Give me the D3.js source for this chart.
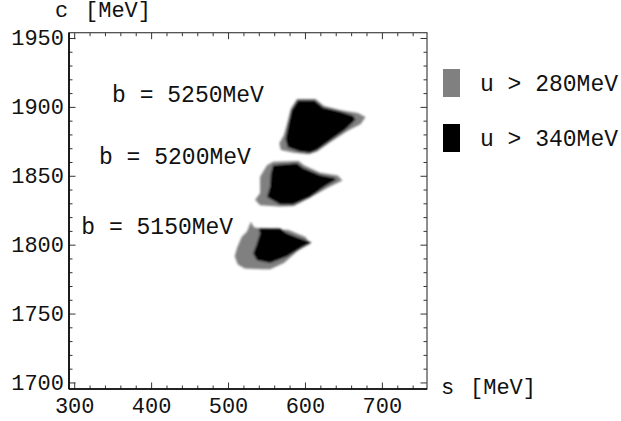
<!DOCTYPE html>
<html>
<head>
<meta charset="utf-8">
<title>contour regions</title>
<script src="https://cdn.jsdelivr.net/npm/d3@7"></script>
<style>
  body { margin: 0; background: #fff; }
  text { font-family: "Liberation Mono", "Courier New", monospace; fill: #111; }
</style>
</head>
<body>
<script>
// axis ticks
var xTicks = [300, 400, 500, 600, 700];
var yTicks = [1700, 1750, 1800, 1850, 1900, 1950];
var legendLabels = ["u > 280MeV", "u > 340MeV"];
var legendColors = ["#808080", "#000000"];
var bLabels = ["b = 5250MeV", "b = 5200MeV", "b = 5150MeV"];

// region outlines [s, c], gray = u > 280, black = u > 340
var gray5250 = [[589,1906],[613,1906],[624,1901],[646,1898],[668,1896],[678,1893],[672,1888],[655,1883],[633,1875],[615,1868],[604,1866],[585,1867],[568,1869],[566,1874],[572,1880],[577,1890],[581,1899]];
var black5250 = [[590,1905],[612,1905],[623,1900],[645,1897],[662,1894],[665,1891],[652,1884],[632,1876],[615,1869],[606,1867],[592,1868],[577,1871],[574,1877],[578,1888],[582,1898]];
var gray5200 = [[550,1858],[558,1860.5],[591,1861],[598,1858],[619,1852.5],[642,1850.5],[648,1847],[630,1842],[606,1834.5],[585,1828.5],[567,1828],[541,1829],[534.5,1833],[541,1837.7],[541,1849.7]];
var black5200 = [[558,1858],[589,1859.4],[597,1856],[619,1851],[637,1849],[640,1847.5],[626,1843],[606,1835],[584,1829.5],[567,1829.5],[550,1835],[554,1842.5],[555,1852]];
var gray5150 = [[529,1817],[533,1813],[541,1812],[578,1811],[600,1806],[606,1801],[590,1796],[572,1787],[554,1782.5],[545,1782.5],[521,1783],[512,1786],[508,1792],[511,1798],[517,1806],[524,1810]];
var black5150 = [[539,1812],[567,1812],[576,1808.6],[593,1805],[608,1802],[597,1799],[576,1791.7],[554,1787],[537,1789],[532,1794],[537,1801.4],[541,1808.6]];

var regions = [
  {pts: gray5250, fill: legendColors[0]},
  {pts: gray5200, fill: legendColors[0]},
  {pts: gray5150, fill: legendColors[0]},
  {pts: black5250, fill: legendColors[1]},
  {pts: black5200, fill: legendColors[1]},
  {pts: black5150, fill: legendColors[1]}
];

var w = 621, h = 421;
var svg = d3.select("body").append("svg").attr("width", w).attr("height", h);

var x = d3.scaleLinear().domain([292.6, 758]).range([69, 427]);
var y = d3.scaleLinear().domain([1695.6, 1954.2]).range([389, 32.7]);

var defs = svg.append("defs");
defs.append("filter").attr("id", "soft")
  .append("feGaussianBlur").attr("stdDeviation", 1.2);

var line = d3.line().x(function(d){ return x(d[0]); }).y(function(d){ return y(d[1]); })
  .curve(d3.curveLinearClosed);

svg.append("g").attr("filter", "url(#soft)")
  .selectAll("path").data(regions).enter().append("path")
  .attr("d", function(d){ return line(d.pts); })
  .attr("fill", function(d){ return d.fill; });

// frame with inward ticks on all four sides
var x0 = x.range()[0], x1 = x.range()[1], y0 = y.range()[0], y1 = y.range()[1];
var xMinor = d3.range(300, 760, 20), yMinor = d3.range(1700, 1955, 10);
var tg = svg.append("g").attr("stroke", "#333").attr("stroke-width", 1);
xMinor.forEach(function(v){
  var len = v % 100 === 0 ? 6.5 : 3.5;
  tg.append("line").attr("x1", x(v)).attr("x2", x(v)).attr("y1", y0).attr("y2", y0 - len);
  tg.append("line").attr("x1", x(v)).attr("x2", x(v)).attr("y1", y1).attr("y2", y1 + len);
});
yMinor.forEach(function(v){
  var len = v % 50 === 0 ? 6.5 : 3.5;
  tg.append("line").attr("y1", y(v)).attr("y2", y(v)).attr("x1", x0).attr("x2", x0 + len);
  tg.append("line").attr("y1", y(v)).attr("y2", y(v)).attr("x1", x1).attr("x2", x1 - len);
});
svg.append("rect").attr("x", x0).attr("y", y1).attr("width", x1 - x0).attr("height", y0 - y1)
  .attr("fill", "none").attr("stroke", "#444").attr("stroke-width", 1.2);
svg.append("line").attr("x1", x0).attr("x2", x0).attr("y1", y1).attr("y2", y0)
  .attr("stroke", "#000").attr("stroke-width", 1.6);
svg.append("line").attr("x1", x0).attr("x2", x1).attr("y1", y0).attr("y2", y0)
  .attr("stroke", "#000").attr("stroke-width", 1.6);

// tick labels
svg.selectAll(".xl").data(xTicks).enter().append("text").attr("class", "xl")
  .attr("x", function(d){ return x(d); }).attr("y", 413)
  .attr("text-anchor", "middle").style("font-size", "22px").text(function(d){ return d; });
svg.selectAll(".yl").data(yTicks).enter().append("text").attr("class", "yl")
  .attr("x", 64).attr("y", function(d){ return y(d) + 7; })
  .attr("text-anchor", "end").style("font-size", "22px").text(function(d){ return d; });

// axis titles
svg.append("text").attr("x", 55).attr("y", 17).style("font-size", "22px").text("c");
svg.append("text").attr("x", 85).attr("y", 17).style("font-size", "22px").text("[MeV]");
svg.append("text").attr("x", 441).attr("y", 394).style("font-size", "22px").text("s");
svg.append("text").attr("x", 470).attr("y", 394).style("font-size", "22px").text("[MeV]");

// b labels
var bPos = [[546, 1904], [529, 1859], [506, 1808]];
svg.selectAll(".bl").data(bLabels).enter().append("text").attr("class", "bl")
  .attr("x", function(d, i){ return x(bPos[i][0]); })
  .attr("y", function(d, i){ return y(bPos[i][1]); })
  .attr("text-anchor", "end").style("font-size", "23px")
  .attr("xml:space", "preserve").text(function(d){ return d; });

// legend
var lg = svg.selectAll(".lg").data(legendLabels).enter().append("g").attr("class", "lg")
  .attr("transform", function(d, i){ return "translate(443," + (69 + i * 55) + ")"; });
lg.append("rect").attr("width", 17).attr("height", 28)
  .attr("fill", function(d, i){ return legendColors[i]; });
lg.append("text").attr("x", 37).attr("y", 22).style("font-size", "23px")
  .attr("xml:space", "preserve").text(function(d){ return d; });
</script>
</body>
</html>
